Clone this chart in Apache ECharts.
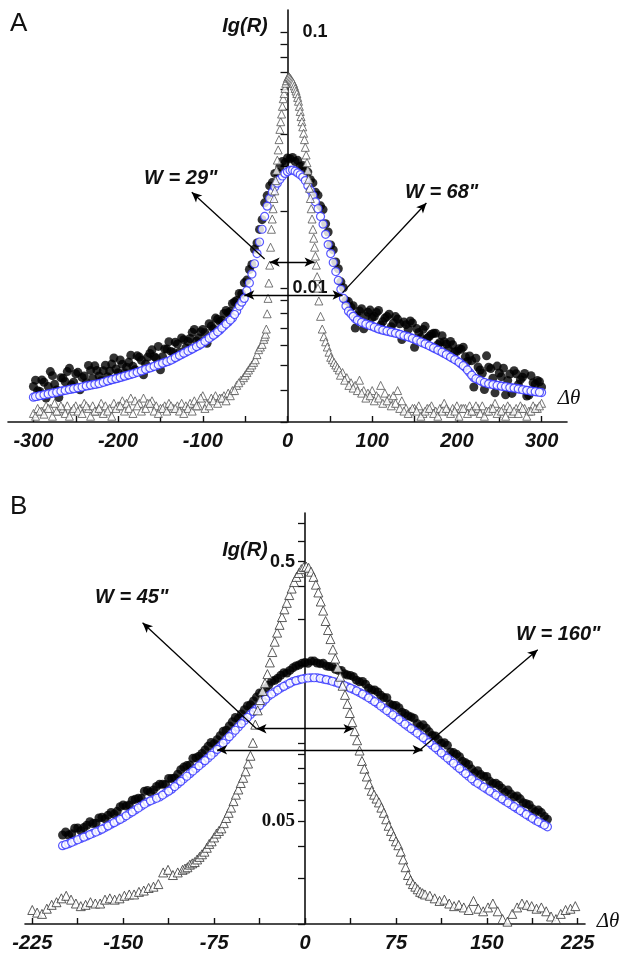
<!DOCTYPE html>
<html><head><meta charset="utf-8">
<script src="https://cdn.jsdelivr.net/npm/echarts@6/dist/echarts.min.js"></script>
<style>html,body{margin:0;padding:0;background:#fff}#c{width:624px;height:953px}</style>
</head><body><div id="c"></div>
<script>
// ---------- Panel A data ----------
const aX = [-300,-295,-290,-285,-280,-275,-270,-265,-260,-255,-250,-245,-240,-235,-230,-225,-220,-215,-210,-205,-200,-195,-190,-185,-180,-175,-170,-165,-160,-155,-150,-145,-140,-135,-130,-125,-120,-115,-110,-105,-100,-95,-90,-85,-80,-75,-70,-65,-60,
-57,-54,-51,-48,-45,-42,-39,-36,-33,-30,-27,-24,-21,-18,-15,-12,-9,-6,-3,0,3,6,9,12,15,18,21,24,27,30,33,36,39,42,45,48,51,54,57,60,63,66,69,72,
75,80,85,90,95,100,105,110,115,120,125,130,135,140,145,150,155,160,165,170,175,180,185,190,195,200,205,210,215,220,225,230,235,240,245,250,255,260,265,270,275,280,285,290,295,300];
const aBlue = [0.00375,0.00378,0.00381,0.00384,0.00387,0.00390,0.00394,0.00397,0.00400,0.00403,0.00406,0.00409,0.00413,0.00416,0.00419,0.00422,0.00426,0.00431,0.00436,0.00441,0.00445,0.00450,0.00455,0.00460,0.00466,0.00472,0.00478,0.00485,0.00491,0.00498,0.00505,0.00512,0.00519,0.00529,0.00540,0.00551,0.00562,0.00573,0.00585,0.00596,0.00611,0.00628,0.00646,0.00664,0.00685,0.00711,0.00736,0.00764,0.00813,
0.00851,0.00881,0.00912,0.00977,0.01047,0.01135,0.01245,0.01365,0.01514,0.01698,0.01905,0.02089,0.02239,0.02371,0.02483,0.0257,0.02661,0.02742,0.02805,0.02851,0.02884,0.02891,0.02864,0.02818,0.02773,0.02716,0.0263,0.02512,0.0241,0.02301,0.02173,0.02042,0.01905,0.01778,0.01622,0.01479,0.01365,0.01259,0.01161,0.01072,0.00989,0.00912,0.00851,0.00813,
0.00794,0.00759,0.00741,0.00730,0.00719,0.00710,0.00698,0.00689,0.00682,0.00676,0.00670,0.00664,0.00656,0.00649,0.00641,0.00631,0.00621,0.00611,0.00601,0.00590,0.00579,0.00568,0.00556,0.00544,0.00532,0.00520,0.00506,0.00490,0.00468,0.00447,0.00439,0.00431,0.00425,0.00422,0.00419,0.00416,0.00413,0.00411,0.00408,0.00406,0.00403,0.00400,0.00398,0.00395,0.00393,0.00391];
const aBlack = [0.00413,0.00397,0.00438,0.00372,0.00472,0.00421,0.00374,0.00445,0.00472,0.00419,0.00463,0.00401,0.00454,0.00499,0.00444,0.00477,0.00435,0.00500,0.00475,0.00534,0.00467,0.00504,0.00491,0.00547,0.00480,0.00538,0.00459,0.00538,0.00574,0.00533,0.00480,0.00579,0.00618,0.00561,0.00605,0.00639,0.00584,0.00636,0.00690,0.00638,0.00690,0.00609,0.00711,0.00764,0.00740,0.00796,0.00802,0.00871,0.00894,
0.00953,0.00951,0.01049,0.01075,0.01183,0.01237,0.01419,0.01502,0.01696,0.01851,0.02153,0.02298,0.02508,0.02584,0.02806,0.02827,0.0298,0.03126,0.03086,0.03222,0.03201,0.03238,0.03122,0.03156,0.02995,0.03015,0.02867,0.02839,0.02651,0.02577,0.02369,0.02307,0.02096,0.02027,0.01784,0.01656,0.01474,0.0141,0.01265,0.0119,0.01058,0.01003,0.00894,0.00886,
0.00842,0.00698,0.00815,0.00694,0.00805,0.00767,0.00803,0.00717,0.00764,0.00791,0.00730,0.00757,0.00630,0.00720,0.00744,0.00587,0.00671,0.00690,0.00637,0.00661,0.00666,0.00613,0.00617,0.00577,0.00601,0.00567,0.00577,0.00539,0.00543,0.00411,0.00492,0.00465,0.00544,0.00485,0.00390,0.00466,0.00487,0.00436,0.00388,0.00463,0.00439,0.00464,0.00382,0.00427,0.00436,0.00411];
// in-between readings of the wings
const aX2 = [-297.5,-292.5,-287.5,-282.5,-277.5,-272.5,-267.5,-262.5,-257.5,-252.5,-247.5,-242.5,-237.5,-232.5,-227.5,-222.5,-217.5,-212.5,-207.5,-202.5,-197.5,-192.5,-187.5,-182.5,-177.5,-172.5,-167.5,-162.5,-157.5,-152.5,-147.5,-142.5,-137.5,-132.5,-127.5,-122.5,-117.5,-112.5,-107.5,-102.5,-97.5,-92.5,-87.5,-82.5,-77.5,-72.5,-67.5,-62.5,
77.5,82.5,87.5,92.5,97.5,102.5,107.5,112.5,117.5,122.5,127.5,132.5,137.5,142.5,147.5,152.5,157.5,162.5,167.5,172.5,177.5,182.5,187.5,192.5,197.5,202.5,207.5,212.5,217.5,222.5,227.5,232.5,237.5,242.5,247.5,252.5,257.5,262.5,267.5,272.5,277.5,282.5,287.5,292.5,297.5];
const aBlue2 = [0.00377,0.00380,0.00383,0.00386,0.00389,0.00392,0.00396,0.00399,0.00402,0.00405,0.00408,0.00411,0.00415,0.00418,0.00421,0.00424,0.00429,0.00434,0.00439,0.00443,0.00448,0.00453,0.00458,0.00463,0.00469,0.00475,0.00482,0.00488,0.00495,0.00502,0.00509,0.00516,0.00524,0.00535,0.00546,0.00557,0.00568,0.00579,0.00591,0.00604,0.00620,0.00637,0.00655,0.00675,0.00698,0.00724,0.00750,0.00789,
0.00776,0.00750,0.00735,0.00724,0.00714,0.00704,0.00693,0.00685,0.00679,0.00673,0.00667,0.00660,0.00652,0.00645,0.00636,0.00626,0.00616,0.00606,0.00595,0.00584,0.00573,0.00562,0.00550,0.00538,0.00526,0.00513,0.00498,0.00479,0.00457,0.00443,0.00435,0.00428,0.00423,0.00420,0.00417,0.00414,0.00412,0.00409,0.00407,0.00404,0.00401,0.00399,0.00396,0.00394,0.00392];
const aBlack2 = [0.00437,0.00395,0.00429,0.00413,0.00455,0.00400,0.00447,0.00431,0.00486,0.00429,0.00469,0.00448,0.00427,0.00477,0.00497,0.00454,0.00476,0.00451,0.00505,0.00483,0.00524,0.00467,0.00513,0.00495,0.00544,0.00523,0.00506,0.00556,0.00540,0.00592,0.00540,0.00578,0.00566,0.00615,0.00562,0.00629,0.00619,0.00672,0.00621,0.00676,0.00670,0.00726,0.00694,0.00756,0.00747,0.00818,0.00810,0.00884,
0.00854,0.00780,0.00831,0.00775,0.00821,0.00774,0.00818,0.00740,0.00774,0.00707,0.00774,0.00726,0.00737,0.00690,0.00731,0.00695,0.00641,0.00709,0.00649,0.00666,0.00602,0.00652,0.00605,0.00619,0.00563,0.00580,0.00588,0.00517,0.00521,0.00532,0.00479,0.00402,0.00491,0.00445,0.00496,0.00451,0.00383,0.00462,0.00476,0.00420,0.00449,0.00379,0.00455,0.00422,0.00431];
const aTriX = [-300,-295,-290,-285,-280,-275,-270,-265,-260,-255,-250,-245,-240,-235,-230,-225,-220,-215,-210,-205,-200,-195,-190,-185,-180,-175,-170,-165,-160,-155,-150,-145,-140,-135,-130,-125,-120,-115,-110,-105,-100,-95,-90,-85,-80,-75,-70,-65,-60,-55,
-52,-50,-48,-46,-44,-42,-40,-38,-36,-34,-32,-30,-28,
-27,-26,-25,-24,-23,-22,-21,-20,-19,-18,-17,-16,-15,-14,-13,-12,-11,-10,-9,-8,-7,-6,-5,-4,-3,-2,-1,0,1,2,3,4,5,6,7,8,9,10,11,12,13,14,15,16,17,18,19,20,21,22,23,24,25,26,27,28,29,30,31,32,33,34,35,36,37,
39,41,43,45,47,49,51,53,55,57,59,61,
65,70,75,80,85,90,95,100,105,110,115,120,125,130,135,140,145,150,155,160,165,170,175,180,185,190,195,200,205,210,215,220,225,230,235,240,245,250,255,260,265,270,275,280,285,290,295,300];
const aTri = [0.00324,0.00339,0.00331,0.00347,0.00339,0.00355,0.00331,0.00339,0.00347,0.00331,0.00347,0.00339,0.00355,0.00339,0.00347,0.00331,0.00355,0.00347,0.00339,0.00355,0.00347,0.00363,0.00355,0.00372,0.00363,0.00355,0.00372,0.00355,0.00363,0.00347,0.00339,0.00347,0.00355,0.00339,0.00347,0.00355,0.00347,0.00355,0.00363,0.00347,0.00380,0.00355,0.00372,0.00380,0.00372,0.00380,0.00389,0.00398,0.00417,0.00437,
0.00447,0.00457,0.00468,0.00479,0.00490,0.00501,0.00513,0.00525,0.00550,0.00575,0.00589,0.00603,0.00631,
0.00646,0.00661,0.00692,0.00794,0.00912,0.01047,0.0123,0.01445,0.01698,0.01862,0.02042,0.02239,0.02399,0.0263,0.02884,0.03162,0.03467,0.03802,0.04169,0.04467,0.04786,0.05129,0.05495,0.05754,0.06026,0.0631,0.06457,
0.06607,0.06683,0.06683,0.06607,0.06531,0.06457,0.06383,0.0631,0.06166,0.06026,0.05888,0.05754,0.05559,0.0537,0.05129,0.04898,0.04677,0.04467,0.04266,0.04027,0.03802,0.03548,0.03311,0.0309,0.02884,0.02661,0.02455,0.02239,0.02042,0.01862,0.01698,0.01567,0.01445,0.01334,0.0123,0.01109,0.01,0.00891,
0.00776,0.00692,0.00646,0.00617,0.00589,0.00562,0.00537,0.00525,0.00513,0.00501,0.0049,0.00479,
0.00468,0.00447,0.00427,0.00417,0.00437,0.00398,0.00389,0.00398,0.0038,0.00417,0.00389,0.00372,0.0038,0.00398,0.00363,0.00339,0.00331,0.00339,0.00347,0.00324,0.00339,0.00347,0.00331,0.00339,0.00355,0.00331,0.00339,0.00347,0.00339,0.00339,0.00347,0.00331,0.00339,0.00347,0.00331,0.00339,0.00355,0.00331,0.00339,0.00347,0.00324,0.00339,0.00347,0.00339,0.00331,0.00347,0.00339,0.00355];
const aTriX2 = [-297.5,-292.5,-287.5,-282.5,-277.5,-272.5,-267.5,-262.5,-257.5,-252.5,-247.5,-242.5,-237.5,-232.5,-227.5,-222.5,-217.5,-212.5,-207.5,-202.5,-197.5,-192.5,-187.5,-182.5,-177.5,-172.5,-167.5,-162.5,-157.5,-152.5,-147.5,-142.5,-137.5,-132.5,-127.5,-122.5,-117.5,-112.5,-107.5,-102.5,-97.5,-92.5,-87.5,-82.5,-77.5,-72.5,-67.5,-62.5,-57.5,
62.5,67.5,72.5,77.5,82.5,87.5,92.5,97.5,102.5,107.5,112.5,117.5,122.5,127.5,132.5,137.5,142.5,147.5,152.5,157.5,162.5,167.5,172.5,177.5,182.5,187.5,192.5,197.5,202.5,207.5,212.5,217.5,222.5,227.5,232.5,237.5,242.5,247.5,252.5,257.5,262.5,267.5,272.5,277.5,282.5,287.5,292.5,297.5];
const aTri2 = [0.00316,0.00331,0.00322,0.00339,0.00316,0.00331,0.00347,0.00324,0.00316,0.00339,0.00331,0.00324,0.00347,0.00316,0.00331,0.00339,0.00324,0.00331,0.00316,0.00339,0.00347,0.00331,0.00339,0.00324,0.00347,0.00331,0.00339,0.00355,0.00331,0.00324,0.00339,0.00331,0.00347,0.00339,0.00331,0.00324,0.00339,0.00331,0.00347,0.00372,0.00339,0.00347,0.00363,0.00355,0.00372,0.00363,0.00380,0.00398,0.00427,
0.00457,0.00437,0.00417,0.00407,0.00398,0.00389,0.00372,0.00380,0.00363,0.00372,0.00355,0.00363,0.00347,0.00355,0.00339,0.00331,0.00324,0.00339,0.00331,0.00316,0.00331,0.00339,0.00324,0.00316,0.00331,0.00339,0.00324,0.00331,0.00316,0.00339,0.00324,0.00331,0.00347,0.00324,0.00316,0.00331,0.00339,0.00324,0.00331,0.00316,0.00339,0.00331,0.00324,0.00339,0.00316,0.00331,0.00339,0.00347];

// ---------- Panel B data ----------
const bX = [-200,-195,-190,-185,-180,-175,-170,-165,-160,-155,-150,-145,-140,-135,-130,-125,-120,-115,-110,-105,-100,-95,-90,-85,-80,-75,-70,-65,-60,-55,-50,-45,-40,-35,-30,-25,-20,-15,-10,-5,0,5,10,15,20,25,30,35,40,45,50,55,60,65,70,75,80,85,90,95,100,105,110,115,120,125,130,135,140,145,150,155,160,165,170,175,180,185,190,195,200];
const bBlue = [0.04009,0.04083,0.04178,0.04276,0.04375,0.04477,0.04581,0.0471,0.04853,0.04989,0.0514,0.05321,0.05508,0.05702,0.05902,0.0604,0.0618,0.06397,0.06622,0.06934,0.07261,0.07603,0.07962,0.08337,0.0873,0.09183,0.09683,0.1026,0.1086,0.1151,0.1219,0.1285,0.1352,0.1432,0.1517,0.157,0.1626,0.1675,0.1722,0.175,0.1774,0.1782,0.1782,0.1762,0.1742,0.1714,0.1683,0.1644,0.1607,0.1563,0.1517,0.1466,0.1416,0.1358,0.1306,0.1256,0.1205,0.1156,0.1112,0.1069,0.1026,0.09795,0.09354,0.08933,0.08531,0.08147,0.0778,0.0743,0.07096,0.06855,0.06622,0.06397,0.0618,0.0597,0.05768,0.05572,0.05383,0.052,0.05023,0.04887,0.04742];
const bBlack = [0.0441,0.0441,0.0468,0.0458,0.0481,0.0488,0.0513,0.0509,0.0539,0.0544,0.0576,0.0575,0.0606,0.0610,0.0655,0.0658,0.0692,0.0691,0.0728,0.0756,0.0806,0.0821,0.0876,0.0909,0.0969,0.0992,0.1065,0.1118,0.1205,0.1243,0.1341,0.1401,0.1501,0.1561,0.1669,0.1743,0.1821,0.1859,0.1946,0.1995,0.204,0.2067,0.2031,0.2026,0.1968,0.192,0.1902,0.1825,0.18,0.1719,0.1684,0.1598,0.1572,0.1494,0.141,0.1394,0.1313,0.1272,0.1245,0.1155,0.1139,0.1068,0.1029,0.1,0.0921,0.0904,0.0848,0.0825,0.0766,0.0754,0.0742,0.0697,0.0686,0.0645,0.0634,0.0624,0.0587,0.0577,0.0542,0.0538,0.0507];
const bX2 = [-197.5,-192.5,-187.5,-182.5,-177.5,-172.5,-167.5,-162.5,-157.5,-152.5,-147.5,-142.5,-137.5,-132.5,-127.5,-122.5,-117.5,-112.5,-107.5,-102.5,-97.5,-92.5,-87.5,-82.5,-77.5,-72.5,-67.5,-62.5,-57.5,-52.5,-47.5,-42.5,-37.5,-32.5,-27.5,-22.5,-17.5,-12.5,-7.5,-2.5,2.5,7.5,12.5,17.5,22.5,27.5,32.5,37.5,42.5,47.5,52.5,57.5,62.5,67.5,72.5,77.5,82.5,87.5,92.5,97.5,102.5,107.5,112.5,117.5,122.5,127.5,132.5,137.5,142.5,147.5,152.5,157.5,162.5,167.5,172.5,177.5,182.5,187.5,192.5,197.5];
const bBlue2 = [0.04046,0.0413,0.04227,0.04325,0.04426,0.04529,0.04645,0.04781,0.0492,0.05064,0.0523,0.05414,0.05604,0.05801,0.05971,0.0611,0.06288,0.06509,0.06777,0.07097,0.07431,0.0778,0.08148,0.08532,0.08955,0.0943,0.0997,0.1056,0.1118,0.1185,0.1252,0.1318,0.1391,0.1474,0.1543,0.1598,0.165,0.1698,0.1736,0.1762,0.1778,0.1782,0.1772,0.1752,0.1728,0.1698,0.1663,0.1625,0.1585,0.154,0.1491,0.1441,0.1387,0.1332,0.1281,0.123,0.118,0.1134,0.109,0.1047,0.1002,0.09574,0.09143,0.08732,0.08339,0.07963,0.07605,0.07263,0.06975,0.06738,0.0651,0.06288,0.06075,0.05869,0.0567,0.05477,0.05291,0.05111,0.04955,0.04814];
const bBlack2 = [0.0453,0.0446,0.0469,0.0471,0.0496,0.0489,0.0516,0.0526,0.0531,0.0567,0.057,0.0601,0.0611,0.065,0.0645,0.0678,0.0692,0.0729,0.0732,0.0788,0.0817,0.0871,0.0888,0.0939,0.1003,0.1028,0.1107,0.1162,0.1252,0.1292,0.139,0.145,0.1558,0.1621,0.1728,0.1774,0.1865,0.1902,0.1979,0.2026,0.2027,0.2067,0.202,0.198,0.197,0.1902,0.1846,0.182,0.1744,0.1725,0.1625,0.16,0.1526,0.1492,0.1396,0.1365,0.1298,0.1259,0.1188,0.1173,0.1102,0.1063,0.0997,0.0978,0.0917,0.0884,0.0837,0.0792,0.0781,0.0741,0.071,0.0698,0.0668,0.0657,0.0618,0.0608,0.0582,0.0557,0.055,0.052];
const bTriX = [-225,-221,-217,-213,-209,-205,-201,-197,-193,-189,-185,-181,-177,-173,-169,-165,-161,-157,-153,-149,-145,-141,-137,-133,-129,-125,-121,-117,-113,-109,-105,-101,
-99,-97,-95,-93,-91,-89,-87,-85,-83,-81,-79,-77,-75,-73,-71,-69,-67,-65,-63,-61,-59,-57,-55,-53,-51,-49,-47,-45,-43,-41,-39,-37,-35,-33,-31,-29,-27,-25,-23,-21,-19,-17,-15,-13,-11,-9,-7,-5,-3,-1,
1,3,5,7,9,11,13,15,17,19,21,23,25,27,29,31,33,35,37,39,41,43,45,47,49,51,53,55,57,59,61,63,65,67,69,71,73,75,77,79,81,83,85,87,89,91,93,95,97,99,
103,107,111,115,119,123,127,131,135,139,143,147,151,155,159,163,167,171,175,179,183,187,191,195,199,203,207,211,215,219,223];
const bTri = [0.02265,0.02213,0.02188,0.02291,0.02371,0.02427,0.02512,0.0257,0.02483,0.02399,0.02344,0.02371,0.02427,0.02399,0.02399,0.02483,0.02512,0.02483,0.02512,0.0257,0.026,0.026,0.02661,0.02692,0.02754,0.02786,0.02851,0.03162,0.03236,0.0309,0.03162,0.03236,
0.03273,0.03311,0.03388,0.03428,0.03467,0.03548,0.03631,0.03715,0.03802,0.03936,0.04074,0.04169,0.04315,0.04467,0.04571,0.04677,0.04898,0.05129,0.0537,0.05623,0.05957,0.0631,0.06607,0.06998,0.07328,0.07762,0.08318,0.08913,0.1,0.1175,0.1334,0.1462,0.1585,0.1698,0.1841,0.2042,0.2239,0.2455,0.2661,0.2851,0.3055,0.3273,0.3467,0.3715,0.3936,0.4169,0.4365,0.4519,0.4677,0.4764,
0.4786,0.4732,0.4571,0.4365,0.4074,0.3802,0.3508,0.3236,0.2951,0.2723,0.2512,0.2291,0.2113,0.195,0.1799,0.166,0.1531,0.1413,0.1303,0.1202,0.1109,0.1023,0.09333,0.08511,0.07943,0.07413,0.06918,0.06531,0.0631,0.06095,0.05888,0.05623,0.0537,0.0507,0.04786,0.04571,0.04365,0.04169,0.04027,0.03802,0.03548,0.03311,0.0309,0.02951,0.02851,0.02786,0.02723,0.02661,0.0263,0.026,
0.0257,0.02512,0.02455,0.02483,0.02399,0.02344,0.02371,0.02317,0.02265,0.02455,0.02291,0.02239,0.02317,0.02399,0.02239,0.02089,0.02042,0.02188,0.02317,0.02399,0.02371,0.02344,0.02291,0.02317,0.02239,0.02138,0.02089,0.02188,0.02265,0.02291,0.02344];

// ---------- Ticks and tick labels ----------
const aXLabels = [-300,-200,-100,0,100,200,300];
const aXTicks = [-300,-250,-200,-150,-100,-50,0,50,100,150,200,250,300];
const aYLabels = [0.01,0.1];
const aYTicks = [0.003,0.004,0.005,0.006,0.007,0.008,0.009,0.01,0.02,0.03,0.04,0.05,0.06,0.07,0.08,0.09,0.1];
const bXLabels = [-225,-150,-75,0,75,150,225];
const bXTicks = [-225,-187.5,-150,-112.5,-75,-37.5,0,37.5,75,112.5,150,187.5,225];
const bYLabels = [0.05,0.5];
const bYTicks = [0.02,0.03,0.04,0.05,0.06,0.07,0.08,0.09,0.1,0.2,0.3,0.4,0.5,0.6,0.7];

// ---------- Width annotations (data coordinates) ----------
const aNotes = [
  {text:'W = 29"', at:[-126,0.0269], ptr:[[-113,0.0237],[-27,0.0130]], bar:[[-21,0.01264],[32,0.01264]]},
  {text:'W = 68"', at:[182,0.0237], ptr:[[164,0.0215],[65,0.0096]], bar:[[-51,0.0094],[65,0.0094]]}
];
const bNotes = [
  {text:'W = 45"', at:[-143,0.363], ptr:[[-134,0.2905],[-40,0.1133]], bar:[[-40,0.1133],[40,0.1133]]},
  {text:'W = 160"', at:[209,0.261], ptr:[[192,0.2286],[95,0.094]], bar:[[-72.5,0.094],[97,0.094]]}
];

const pairs = (xs, ys) => xs.map((x, i) => [x, ys[i]]);
const SANS = '"Liberation Sans", Arial, sans-serif';
const SERIF = '"Liberation Serif", "Times New Roman", serif';
const INK = '#111';
const bi = {fontFamily:SANS, fontWeight:'bold', fontStyle:'italic', fontSize:20, color:INK};

function xAxisCfg(gi, min, max, ticks, labels){
  return {type:'value', gridIndex:gi, min:min, max:max,
    axisLine:{onZero:false, lineStyle:{color:INK, width:1.6}},
    axisTick:{show:true, inside:true, length:6, customValues:ticks, lineStyle:{color:INK, width:1.4}},
    axisLabel:Object.assign({customValues:labels, margin:9}, bi),
    splitLine:{show:false}};
}
const fmt = v => String(+(+v).toPrecision(3));

function notesSeries(xi, notes){
  const lines = [];
  notes.forEach(n => {
    lines.push([{coord:n.ptr[0], symbol:'arrow'}, {coord:n.ptr[1], symbol:'none'}]);
    lines.push([{coord:n.bar[0], symbol:'arrow'}, {coord:n.bar[1], symbol:'arrow'}]);
  });
  return {type:'scatter', xAxisIndex:xi, yAxisIndex:xi, data:[], z:10, silent:true,
    markLine:{silent:true, animation:false, symbolSize:[7,10], precision:6,
      lineStyle:{color:'#000', width:1.3, type:'solid'}, label:{show:false}, emphasis:{disabled:true}, data:lines},
    markPoint:{silent:true, animation:false, symbol:'circle', symbolSize:1, itemStyle:{color:'rgba(0,0,0,0)'},
      label:Object.assign({show:true, position:'inside', formatter:'{b}'}, bi),
      data:notes.map(n => ({name:n.text, coord:n.at}))}};
}

const BLUE = '#2f2fff';
const option = {
  animation:false,
  backgroundColor:'#fff',
  grid:[
    {left:8, top:10, width:559, height:412},
    {left:25, top:513, width:560, height:411}
  ],
  xAxis:[xAxisCfg(0,-330,330,aXTicks,aXLabels), xAxisCfg(1,-231,231,bXTicks,bXLabels)],
  yAxis:[
    {type:'log', logBase:10, gridIndex:0, min:0.003, max:0.122, offset:-279.5,
      axisLine:{show:true, onZero:false, lineStyle:{color:INK, width:1.6}},
      axisTick:{show:true, inside:false, length:7, customValues:aYTicks, lineStyle:{color:INK, width:1.3}},
      axisLabel:{customValues:aYLabels, inside:true, margin:40, align:'right', formatter:fmt,
        fontFamily:SANS, fontWeight:'bold', fontSize:18, color:INK},
      splitLine:{show:false}, minorTick:{show:false}},
    {type:'log', logBase:10, gridIndex:1, min:0.02, max:0.77, offset:-280,
      axisLine:{show:true, onZero:false, lineStyle:{color:INK, width:1.6}},
      axisTick:{show:true, inside:false, length:7, customValues:bYTicks, lineStyle:{color:INK, width:1.3}},
      axisLabel:{customValues:bYLabels, inside:false, margin:10,
        formatter: v => (Math.abs(v-0.05) < 1e-6 ? '{s|0.05}' : fmt(v)),
        fontFamily:SANS, fontWeight:'bold', fontSize:18, color:INK,
        rich:{s:{fontFamily:SERIF, fontWeight:'bold', fontSize:19, color:INK}}},
      splitLine:{show:false}, minorTick:{show:false}}
  ],
  series:[
    {type:'scatter', xAxisIndex:0, yAxisIndex:0, data:pairs(aX,aBlack).concat(pairs(aX2,aBlack2)), symbol:'circle', symbolSize:9, itemStyle:{color:'#000'}, silent:true},
    {type:'scatter', xAxisIndex:0, yAxisIndex:0, data:pairs(aX,aBlue).concat(pairs(aX2,aBlue2)), symbol:'circle', symbolSize:8, itemStyle:{color:'#fff', borderColor:BLUE, borderWidth:1.2}, silent:true},
    {type:'scatter', xAxisIndex:0, yAxisIndex:0, data:pairs(aTriX,aTri).concat(pairs(aTriX2,aTri2)), symbol:'triangle', symbolSize:8, itemStyle:{color:'#fff', borderColor:'#555', borderWidth:1}, silent:true},
    notesSeries(0, aNotes),
    {type:'scatter', xAxisIndex:1, yAxisIndex:1, data:pairs(bX,bBlack).concat(pairs(bX2,bBlack2)), symbol:'circle', symbolSize:9, itemStyle:{color:'#000'}, silent:true},
    {type:'scatter', xAxisIndex:1, yAxisIndex:1, data:pairs(bX,bBlue).concat(pairs(bX2,bBlue2)), symbol:'circle', symbolSize:8, itemStyle:{color:'#fff', borderColor:BLUE, borderWidth:1.2}, silent:true},
    {type:'scatter', xAxisIndex:1, yAxisIndex:1, data:pairs(bTriX,bTri), symbol:'triangle', symbolSize:9, itemStyle:{color:'#fff', borderColor:'#333', borderWidth:1}, silent:true},
    notesSeries(1, bNotes)
  ],
  graphic:[
    {type:'text', style:{x:10, y:24, text:'A', font:'26px '+SANS, fill:INK, verticalAlign:'middle'}},
    {type:'text', style:{x:10, y:507, text:'B', font:'26px '+SANS, fill:INK, verticalAlign:'middle'}},
    {type:'text', style:{x:245, y:26, text:'Ig(R)', font:'italic bold 20px '+SANS, fill:INK, align:'center', verticalAlign:'middle'}},
    {type:'text', style:{x:245, y:550, text:'Ig(R)', font:'italic bold 20px '+SANS, fill:INK, align:'center', verticalAlign:'middle'}},
    {type:'text', style:{x:569, y:398, text:'Δθ', font:'italic 21px '+SERIF, fill:INK, align:'center', verticalAlign:'middle'}},
    {type:'text', style:{x:608, y:921, text:'Δθ', font:'italic 21px '+SERIF, fill:INK, align:'center', verticalAlign:'middle'}}
  ]
};
const chart = echarts.init(document.getElementById('c'));
chart.setOption(option);
</script>
</body></html>
